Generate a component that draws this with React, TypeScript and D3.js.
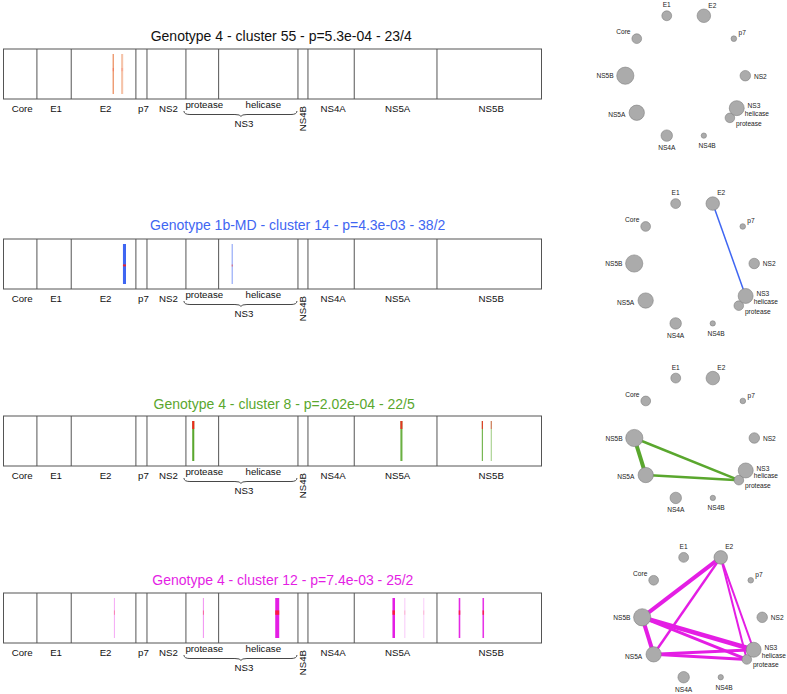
import React from "react";
import * as d3 from "d3";

// ---------- data ----------
const regionNames = ["Core", "E1", "E2", "p7", "NS2", "protease", "helicase", "NS4B", "NS4A", "NS5A", "NS5B"];
const regionLengths = [187, 192, 362, 62, 218, 183, 444, 56, 259, 463, 585];

const clusterTitles = [
  "Genotype 4 - cluster 55 - p=5.3e-04 - 23/4",
  "Genotype 1b-MD - cluster 14 - p=4.3e-03 - 38/2",
  "Genotype 4 - cluster 8 - p=2.02e-04 - 22/5",
  "Genotype 4 - cluster 12 - p=7.4e-03 - 25/2",
];

// mutations: amino-acid position, number of sequences, frequency
const mutations55 = [
  { pos: 614, n: 1, f: 0.95 },
  { pos: 664, n: 2, f: 0.45 },
];
const mutations14 = [
  { pos: 677, n: 3, f: 1 },
  { pos: 1280, n: 1, f: 0.6 },
];
const mutations8 = [
  { pos: 1062, n: 2, f: 1 },
  { pos: 2227, n: 2, f: 0.9 },
  { pos: 2680, n: 1, f: 0.9 },
  { pos: 2730, n: 1, f: 0.55 },
];
const mutations12 = [
  { pos: 621, n: 1, f: 0.35 },
  { pos: 1119, n: 1, f: 0.45 },
  { pos: 1532, n: 4, f: 1 },
  { pos: 2184, n: 2.5, f: 1 },
  { pos: 2246, n: 1, f: 0.22 },
  { pos: 2352, n: 1, f: 0.2 },
  { pos: 2552, n: 1.5, f: 0.95 },
  { pos: 2685, n: 1.5, f: 0.9 },
];
// row band (fraction of sequences) where the residue differs, and its share
const variantRows = [
  [0.35, 0.43],
  [0.51, 0.56],
  [0.0, 0.2],
  [0.31, 0.42],
];
const variantShare = [0.3, 0.85, 0.9, 0.8];

// co-evolution edges: source, target, strength
const edges55: [string, string, number][] = [];
const edges14: [string, string, number][] = [["E2", "helicase", 1.5]];
const edges8: [string, string, number][] = [
  ["NS5B", "NS5A", 4],
  ["NS5B", "protease", 2.5],
  ["NS5A", "protease", 2.5],
];
const edges12: [string, string, number][] = [
  ["E2", "NS5B", 4],
  ["E2", "NS5A", 2.5],
  ["E2", "helicase", 2],
  ["E2", "protease", 2],
  ["NS5B", "NS5A", 4],
  ["NS5B", "helicase", 4.5],
  ["NS5B", "protease", 3],
  ["NS5A", "helicase", 3],
  ["NS5A", "protease", 3],
];

const clusterMutations = [mutations55, mutations14, mutations8, mutations12];
const clusterEdges = [edges55, edges14, edges8, edges12];

// ---------- styles / layout ----------
const titleColors = ["#111111", "#3f66f2", "#5aa72e", "#e41ee4"];
const markColors = ["#e8773f", "#3f66f2", "#5aa72e", "#e41ee4"];

const panels = [
  { titleX: 150.7, titleY: 41, boxY: 49, cx: 685.3, cy: 75.7 },
  { titleX: 150, titleY: 230, boxY: 239, cx: 694.2, cy: 263.5 },
  { titleX: 153.6, titleY: 409, boxY: 416, cx: 694.3, cy: 438 },
  { titleX: 152.3, titleY: 585, boxY: 593, cx: 702.2, cy: 617.3 },
];
const BOX_H = 50;
const RX = 60, RY = 63;

const nodeAngle: Record<string, number> = {
  E2: 18, p7: 54, NS2: 90, helicase: 121, protease: 132, NS4B: 162,
  NS4A: 198, NS5A: 234, NS5B: 270, Core: 306, E1: 342,
};
const nodeLabels: Record<string, { t: string; dx: number; dy: number }[]> = {
  E1: [{ t: "E1", dx: 0, dy: -11 }],
  E2: [{ t: "E2", dx: 8.5, dy: -10.7 }],
  p7: [{ t: "p7", dx: 8.3, dy: -5.7 }],
  NS2: [{ t: "NS2", dx: 15, dy: 0.3 }],
  helicase: [{ t: "NS3", dx: 17.2, dy: -2.3 }, { t: "helicase", dx: 20.2, dy: 5.4 }],
  protease: [{ t: "protease", dx: 19, dy: 5.4 }],
  NS4B: [{ t: "NS4B", dx: 3.3, dy: 10 }],
  NS4A: [{ t: "NS4A", dx: 0, dy: 12 }],
  NS5A: [{ t: "NS5A", dx: -20, dy: 1.7 }],
  NS5B: [{ t: "NS5B", dx: -20.3, dy: 0 }],
  Core: [{ t: "Core", dx: -13.4, dy: -6.7 }],
};

const FONT = "'Liberation Sans', Arial, Helvetica, sans-serif";

const starts: number[] = [];
regionLengths.reduce((acc, l) => {
  starts.push(acc);
  return acc + l;
}, 0);
const total = d3.sum(regionLengths);
const x = d3.scaleLinear().domain([0, total]).range([3.5, 541.5]);
const rScale = d3.scaleSqrt().domain([0, d3.max(regionLengths) as number]).range([0, 8.6]);
const widthScale = d3.scaleLinear().domain([1, 4]).range([1.1, 4]);

function GenomeBar({ idx }: { idx: number }) {
  const p = panels[idx];
  const top = p.boxY;
  const bottom = top + BOX_H;
  const muts = clusterMutations[idx];
  const [r0, r1] = variantRows[idx];
  const lineTop = top + 5;
  const lineBot = bottom - 5;
  const lh = lineBot - lineTop;
  const ns3Start = x(starts[5]);
  const ns3End = x(starts[6] + regionLengths[6]);
  const mid = (ns3Start + ns3End) / 2 - 1;
  const bx1 = ns3Start - 2, bx2 = ns3End - 1;
  const y0 = bottom + 12, y1 = y0 + 3.5, y2 = y0 + 5.5;
  const brace = `M${bx1},${y0} Q${bx1},${y1} ${bx1 + 6},${y1} L${mid - 6},${y1} Q${mid},${y1} ${mid},${y2} Q${mid},${y1} ${mid + 6},${y1} L${bx2 - 6},${y1} Q${bx2},${y1} ${bx2},${y0}`;
  return (
    <g>
      <text x={p.titleX} y={p.titleY} fontSize={14} fontFamily={FONT} fill={titleColors[idx]}>
        {clusterTitles[idx]}
      </text>
      {muts.map((m, i) => (
        <g key={i}>
          <line
            x1={x(m.pos)} x2={x(m.pos)} y1={lineTop} y2={lineBot}
            stroke={markColors[idx]} strokeWidth={widthScale(m.n)} strokeOpacity={m.f}
          />
          <line
            x1={x(m.pos)} x2={x(m.pos)} y1={lineTop + lh * r0} y2={lineTop + lh * r1}
            stroke="#ff1a1a" strokeWidth={widthScale(m.n)} strokeOpacity={m.f * variantShare[idx]}
          />
        </g>
      ))}
      <rect x={x(0)} y={top} width={x(total) - x(0)} height={BOX_H} fill="none" stroke="#555" strokeWidth={1} />
      {starts.slice(1).map((s, i) => (
        <line key={i} x1={x(s)} x2={x(s)} y1={top} y2={bottom} stroke="#555" strokeWidth={1} />
      ))}
      {regionNames.map((name, i) => {
        const cxm = x(starts[i] + regionLengths[i] / 2);
        if (name === "NS4B") {
          return (
            <text key={name} transform={`translate(${cxm + 3.5},${bottom + 7}) rotate(-90)`}
              textAnchor="end" fontSize={9.7} fontFamily={FONT} fill="#111">{name}</text>
          );
        }
        const sub = name === "protease" || name === "helicase";
        return (
          <text key={name} x={cxm + (name === "helicase" ? 5 : 2)} y={bottom + (sub ? 9 : 13)}
            textAnchor="middle" fontSize={9.7} fontFamily={FONT} fill="#111">{name}</text>
        );
      })}
      <path d={brace} fill="none" stroke="#333" strokeWidth={0.9} />
      <text x={mid + 3} y={bottom + 28} textAnchor="middle" fontSize={9.7} fontFamily={FONT} fill="#111">NS3</text>
    </g>
  );
}

function Network({ idx }: { idx: number }) {
  const p = panels[idx];
  const pos = (name: string) => {
    const a = (nodeAngle[name] * Math.PI) / 180;
    return [p.cx + RX * Math.sin(a), p.cy - RY * Math.cos(a)];
  };
  const edges = clusterEdges[idx];
  return (
    <g>
      {edges.map(([s, t, w], i) => {
        const [x1, y1] = pos(s);
        const [x2, y2] = pos(t);
        return <line key={i} x1={x1} y1={y1} x2={x2} y2={y2} stroke={markColors[idx]} strokeWidth={w} />;
      })}
      {regionNames.map((name, i) => {
        const [nx, ny] = pos(name);
        return (
          <g key={name}>
            <circle cx={nx} cy={ny} r={rScale(regionLengths[i])} fill="#ababab" stroke="#808080" strokeWidth={0.6} />
            {nodeLabels[name].map((l) => (
              <text key={l.t} x={nx + l.dx} y={ny + l.dy} textAnchor="middle" dominantBaseline="central"
                fontSize={6.6} fontFamily={FONT} fill="#222">{l.t}</text>
            ))}
          </g>
        );
      })}
    </g>
  );
}

export default function App() {
  return (
    <svg width={787} height={694} style={{ position: "absolute", left: 0, top: 0, background: "#fff" }}>
      <rect width={787} height={694} fill="#fff" />
      {panels.map((_, i) => (
        <g key={i}>
          <GenomeBar idx={i} />
          <Network idx={i} />
        </g>
      ))}
    </svg>
  );
}
